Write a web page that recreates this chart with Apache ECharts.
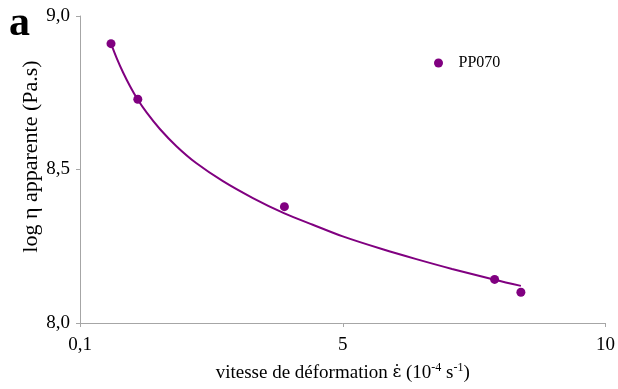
<!DOCTYPE html>
<html><head><meta charset="utf-8">
<script src="https://cdn.jsdelivr.net/npm/echarts@6/dist/echarts.min.js"></script>
<style>html,body{margin:0;padding:0;background:#fff}#c{width:618px;height:389px}</style>
</head><body><div id="c"></div>
<script>
var seriesName = 'PP070';
var pointX = [0.59, 1.10, 3.89, 7.89, 8.39];
var pointY = [8.910, 8.729, 8.379, 8.142, 8.100];
var trendX = [0.59, 0.70, 0.82, 0.95, 1.08, 1.27, 1.52, 1.84, 2.21, 2.72, 3.29, 3.89, 4.43, 5.00, 5.76, 6.40, 7.08, 7.91, 8.39];
var trendY = [8.910, 8.862, 8.816, 8.772, 8.733, 8.685, 8.632, 8.575, 8.521, 8.462, 8.407, 8.357, 8.320, 8.282, 8.240, 8.208, 8.176, 8.140, 8.121];
var xTickValues = [0, 5, 10];
var xTickLabels = ['0,1', '5', '10'];
var yTickValues = [8, 8.5, 9];
var yTickLabels = ['8,0', '8,5', '9,0'];

var FONT = '"Liberation Serif", "Times New Roman", serif';
var PURPLE = '#800080';
var AXIS = '#a6a6a6';

function zip(a, b) { return a.map(function (v, i) { return [v, b[i]]; }); }
function lab(values, labels) {
  return function (v) {
    for (var i = 0; i < values.length; i++) if (Math.abs(values[i] - v) < 1e-9) return labels[i];
    return '';
  };
}

var chart = echarts.init(document.getElementById('c'), null, {renderer: 'canvas'});
chart.setOption({
  animation: false,
  backgroundColor: '#fff',
  grid: {left: 80, right: 11, top: 16, bottom: 63.5, containLabel: false},
  legend: {
    data: [seriesName],
    left: 429, top: 50,
    itemWidth: 30, itemHeight: 9,
    icon: 'circle',
    itemStyle: {color: PURPLE, opacity: 1},
    textStyle: {fontFamily: FONT, fontSize: 16, color: '#000'}
  },
  xAxis: {
    type: 'value', min: 0, max: 10, interval: 5,
    axisLine: {show: true, lineStyle: {color: AXIS, width: 1}},
    axisTick: {show: true, length: 4, inside: false, lineStyle: {color: AXIS}},
    splitLine: {show: false},
    axisLabel: {formatter: lab(xTickValues, xTickLabels), fontFamily: FONT, fontSize: 19, color: '#000', margin: 13},
    name: 'vitesse de déformation {e|ε\u0307} (10{s|-4} s{s|-1})',
    nameLocation: 'middle', nameGap: 39, nameMoveOverlap: false,
    nameTextStyle: {
      fontFamily: FONT, fontSize: 19, color: '#000', lineHeight: 22,
      rich: {
        s: {fontFamily: FONT, fontSize: 12, color: '#000', verticalAlign: 'top', lineHeight: 22, padding: [0, 0, 6, 0]},
        e: {fontFamily: '"DejaVu Serif", serif', fontSize: 17, color: '#000', lineHeight: 22}
      }
    }
  },
  yAxis: {
    type: 'value', min: 8, max: 9, interval: 0.5,
    axisLine: {show: true, lineStyle: {color: AXIS, width: 1}},
    axisTick: {show: true, length: 4, inside: false, lineStyle: {color: AXIS}},
    splitLine: {show: false},
    axisLabel: {formatter: lab(yTickValues, yTickLabels), fontFamily: FONT, fontSize: 19, color: '#000', margin: 10},
    name: 'log η apparente (Pa.s)',
    nameLocation: 'middle', nameGap: 38, nameRotate: 90, nameMoveOverlap: false,
    nameTextStyle: {fontFamily: FONT, fontSize: 22, color: '#000', padding: [0, 0, 0, 26]}
  },
  graphic: [{
    type: 'text', x: 9, y: 24,
    style: {text: 'a', fontFamily: FONT, fontSize: 42, fontWeight: 'bold', fill: '#000', verticalAlign: 'middle', align: 'left'}
  }],
  series: [
    {
      name: 'trend', type: 'line', data: zip(trendX, trendY), smooth: 0.3,
      showSymbol: false, symbol: 'none',
      lineStyle: {color: PURPLE, width: 2}, z: 2, silent: true
    },
    {
      name: seriesName, type: 'scatter', data: zip(pointX, pointY),
      symbol: 'circle', symbolSize: 9,
      itemStyle: {color: PURPLE, opacity: 1}, z: 3
    }
  ]
});
</script></body></html>
